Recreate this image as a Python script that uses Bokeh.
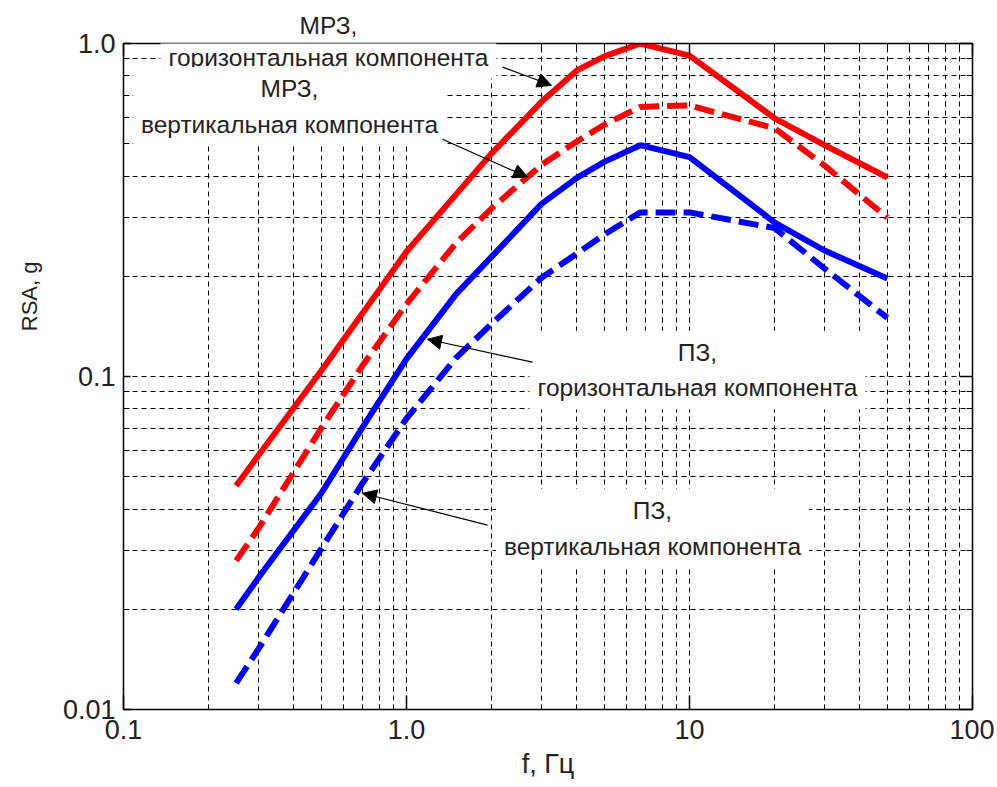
from bokeh.plotting import figure
from bokeh.models import FixedTicker, LogAxis, Label, Arrow, NormalHead, Range1d, Title
from bokeh.embed import file_html
from bokeh.resources import INLINE

# ---- data ----
freq = [0.25, 0.3, 0.5, 0.7, 1.0, 1.5, 2.0, 3.0, 4.0, 5.0, 6.7, 10.0, 20.0, 30.0, 50.0]
mrz_h = [0.047, 0.058, 0.104, 0.155, 0.237, 0.353, 0.468, 0.668, 0.830, 0.915, 1.000, 0.920, 0.596, 0.495, 0.396]
mrz_v = [0.028, 0.035, 0.070, 0.108, 0.165, 0.252, 0.320, 0.432, 0.508, 0.570, 0.645, 0.652, 0.556, 0.430, 0.300]
pz_h = [0.020, 0.0249, 0.0446, 0.0705, 0.113, 0.177, 0.229, 0.330, 0.395, 0.441, 0.495, 0.456, 0.290, 0.239, 0.197]
pz_v = [0.012, 0.0152, 0.0304, 0.0479, 0.0748, 0.114, 0.144, 0.198, 0.234, 0.267, 0.311, 0.311, 0.279, 0.211, 0.150]

x_major = [0.1, 1.0, 10.0, 100.0]
x_labels = ["0.1", "1.0", "10", "100"]
y_major = [0.01, 0.1, 1.0]
y_labels = ["0.01", "0.1", "1.0"]

FONT = "Liberation Sans"
TXT = "#222222"

x_minor = [m * t for t in x_major[:-1] for m in range(2, 10)]
y_minor = [m * t for t in y_major[:-1] for m in range(2, 10)]
xt = FixedTicker(ticks=x_major, minor_ticks=x_minor)
yt = FixedTicker(ticks=y_major, minor_ticks=y_minor)

p = figure(x_axis_type="log", y_axis_type="log",
           x_range=Range1d(0.1, 100), y_range=Range1d(0.01, 1.0),
           frame_width=849, frame_height=666,
           min_border_left=123, min_border_top=43, min_border_right=22, min_border_bottom=68,
           output_backend="svg", toolbar_location=None)
p.outline_line_color = None
p.background_fill_color = "white"

# grid
for g in (p.xgrid, p.ygrid):
    g.grid_line_color = "black"
    g.grid_line_dash = "5 4"
    g.grid_line_width = 1
    g.minor_grid_line_color = "black"
    g.minor_grid_line_dash = "5 4"
    g.minor_grid_line_width = 1
p.xgrid.ticker = xt
p.ygrid.ticker = yt

def style_axis(ax, maj_in, min_in, show_labels):
    ax.axis_line_color = "black"
    ax.axis_line_width = 1.5
    ax.major_tick_in = maj_in
    ax.major_tick_out = 0
    ax.minor_tick_in = min_in
    ax.minor_tick_out = 0
    ax.major_tick_line_color = "black"
    ax.minor_tick_line_color = "black"
    ax.major_tick_line_width = 1.5
    ax.minor_tick_line_width = 1
    if show_labels:
        ax.major_label_text_font = FONT
        ax.major_label_text_font_size = "27px"
        ax.major_label_text_color = TXT
    else:
        ax.major_label_text_font_size = "0px"
        ax.major_label_text_alpha = 0

xa = p.xaxis[0]
xa.ticker = xt
xa.major_label_overrides = dict(zip(x_major, x_labels))
style_axis(xa, 14, 5, True)
xa.major_label_standoff = 10
xa.axis_label = "f, Гц"
xa.axis_label_text_font = FONT
xa.axis_label_text_font_size = "27px"
xa.axis_label_text_font_style = "normal"
xa.axis_label_text_color = TXT
xa.axis_label_standoff = 7

ya = p.yaxis[0]
ya.ticker = yt
ya.major_label_overrides = dict(zip(y_major, y_labels))
style_axis(ya, 7, 6, True)
ya.major_label_standoff = 8

ra = LogAxis(ticker=yt)
style_axis(ra, 13, 6, False)
p.add_layout(ra, "right")
ta = LogAxis(ticker=xt)
style_axis(ta, 12, 5, False)
p.add_layout(ta, "above")

# y axis title, shifted upward as in the reference
p.add_layout(Title(text="RSA, g", align="right", vertical_align="top", offset=218, standoff=32,
                   text_font=FONT, text_font_size="22px", text_font_style="normal",
                   text_color=TXT), "left")

# first line of the top annotation sits above the frame
p.title.text = "МРЗ,"
p.title.align = "left"
p.title.offset = 176
p.title.text_font = FONT
p.title.text_font_size = "24.5px"
p.title.text_font_style = "normal"
p.title.text_color = TXT

# curves
p.line(freq, mrz_h, line_color="#FF0000", line_width=6)
p.line(freq, mrz_v, line_color="#FF0000", line_width=6, line_dash="20 8")
p.line(freq, pz_h, line_color="#0000FF", line_width=6)
p.line(freq, pz_v, line_color="#0000FF", line_width=6, line_dash="20 8")

# annotations
def lab(x, y, text, size="24.5px"):
    L = Label(x=x, y=y, text=text, text_font=FONT, text_font_size=size,
              text_align="center", text_baseline="middle", text_color=TXT,
              text_line_height=1.32,
              background_fill_color="white", padding=8)
    p.add_layout(L)

lab(0.530, 0.910, "горизонтальная компонента")
lab(0.386, 0.648, "МРЗ,\nвертикальная компонента")
lab(10.67, 0.1045, "ПЗ,\nгоризонтальная компонента")
lab(7.40, 0.0350, "ПЗ,\nвертикальная компонента")

def arrow(x0, y0, x1, y1):
    p.add_layout(Arrow(end=NormalHead(size=14, fill_color="black", line_color="black"),
                       x_start=x0, y_start=y0, x_end=x1, y_end=y1,
                       line_color="black", line_width=1.2))

arrow(2.184, 0.849, 3.253, 0.749)
arrow(1.340, 0.516, 2.677, 0.397)
arrow(2.787, 0.1104, 1.186, 0.1294)
arrow(1.933, 0.0358, 0.699, 0.0446)

open("out.html", "w").write(file_html(p, INLINE))
